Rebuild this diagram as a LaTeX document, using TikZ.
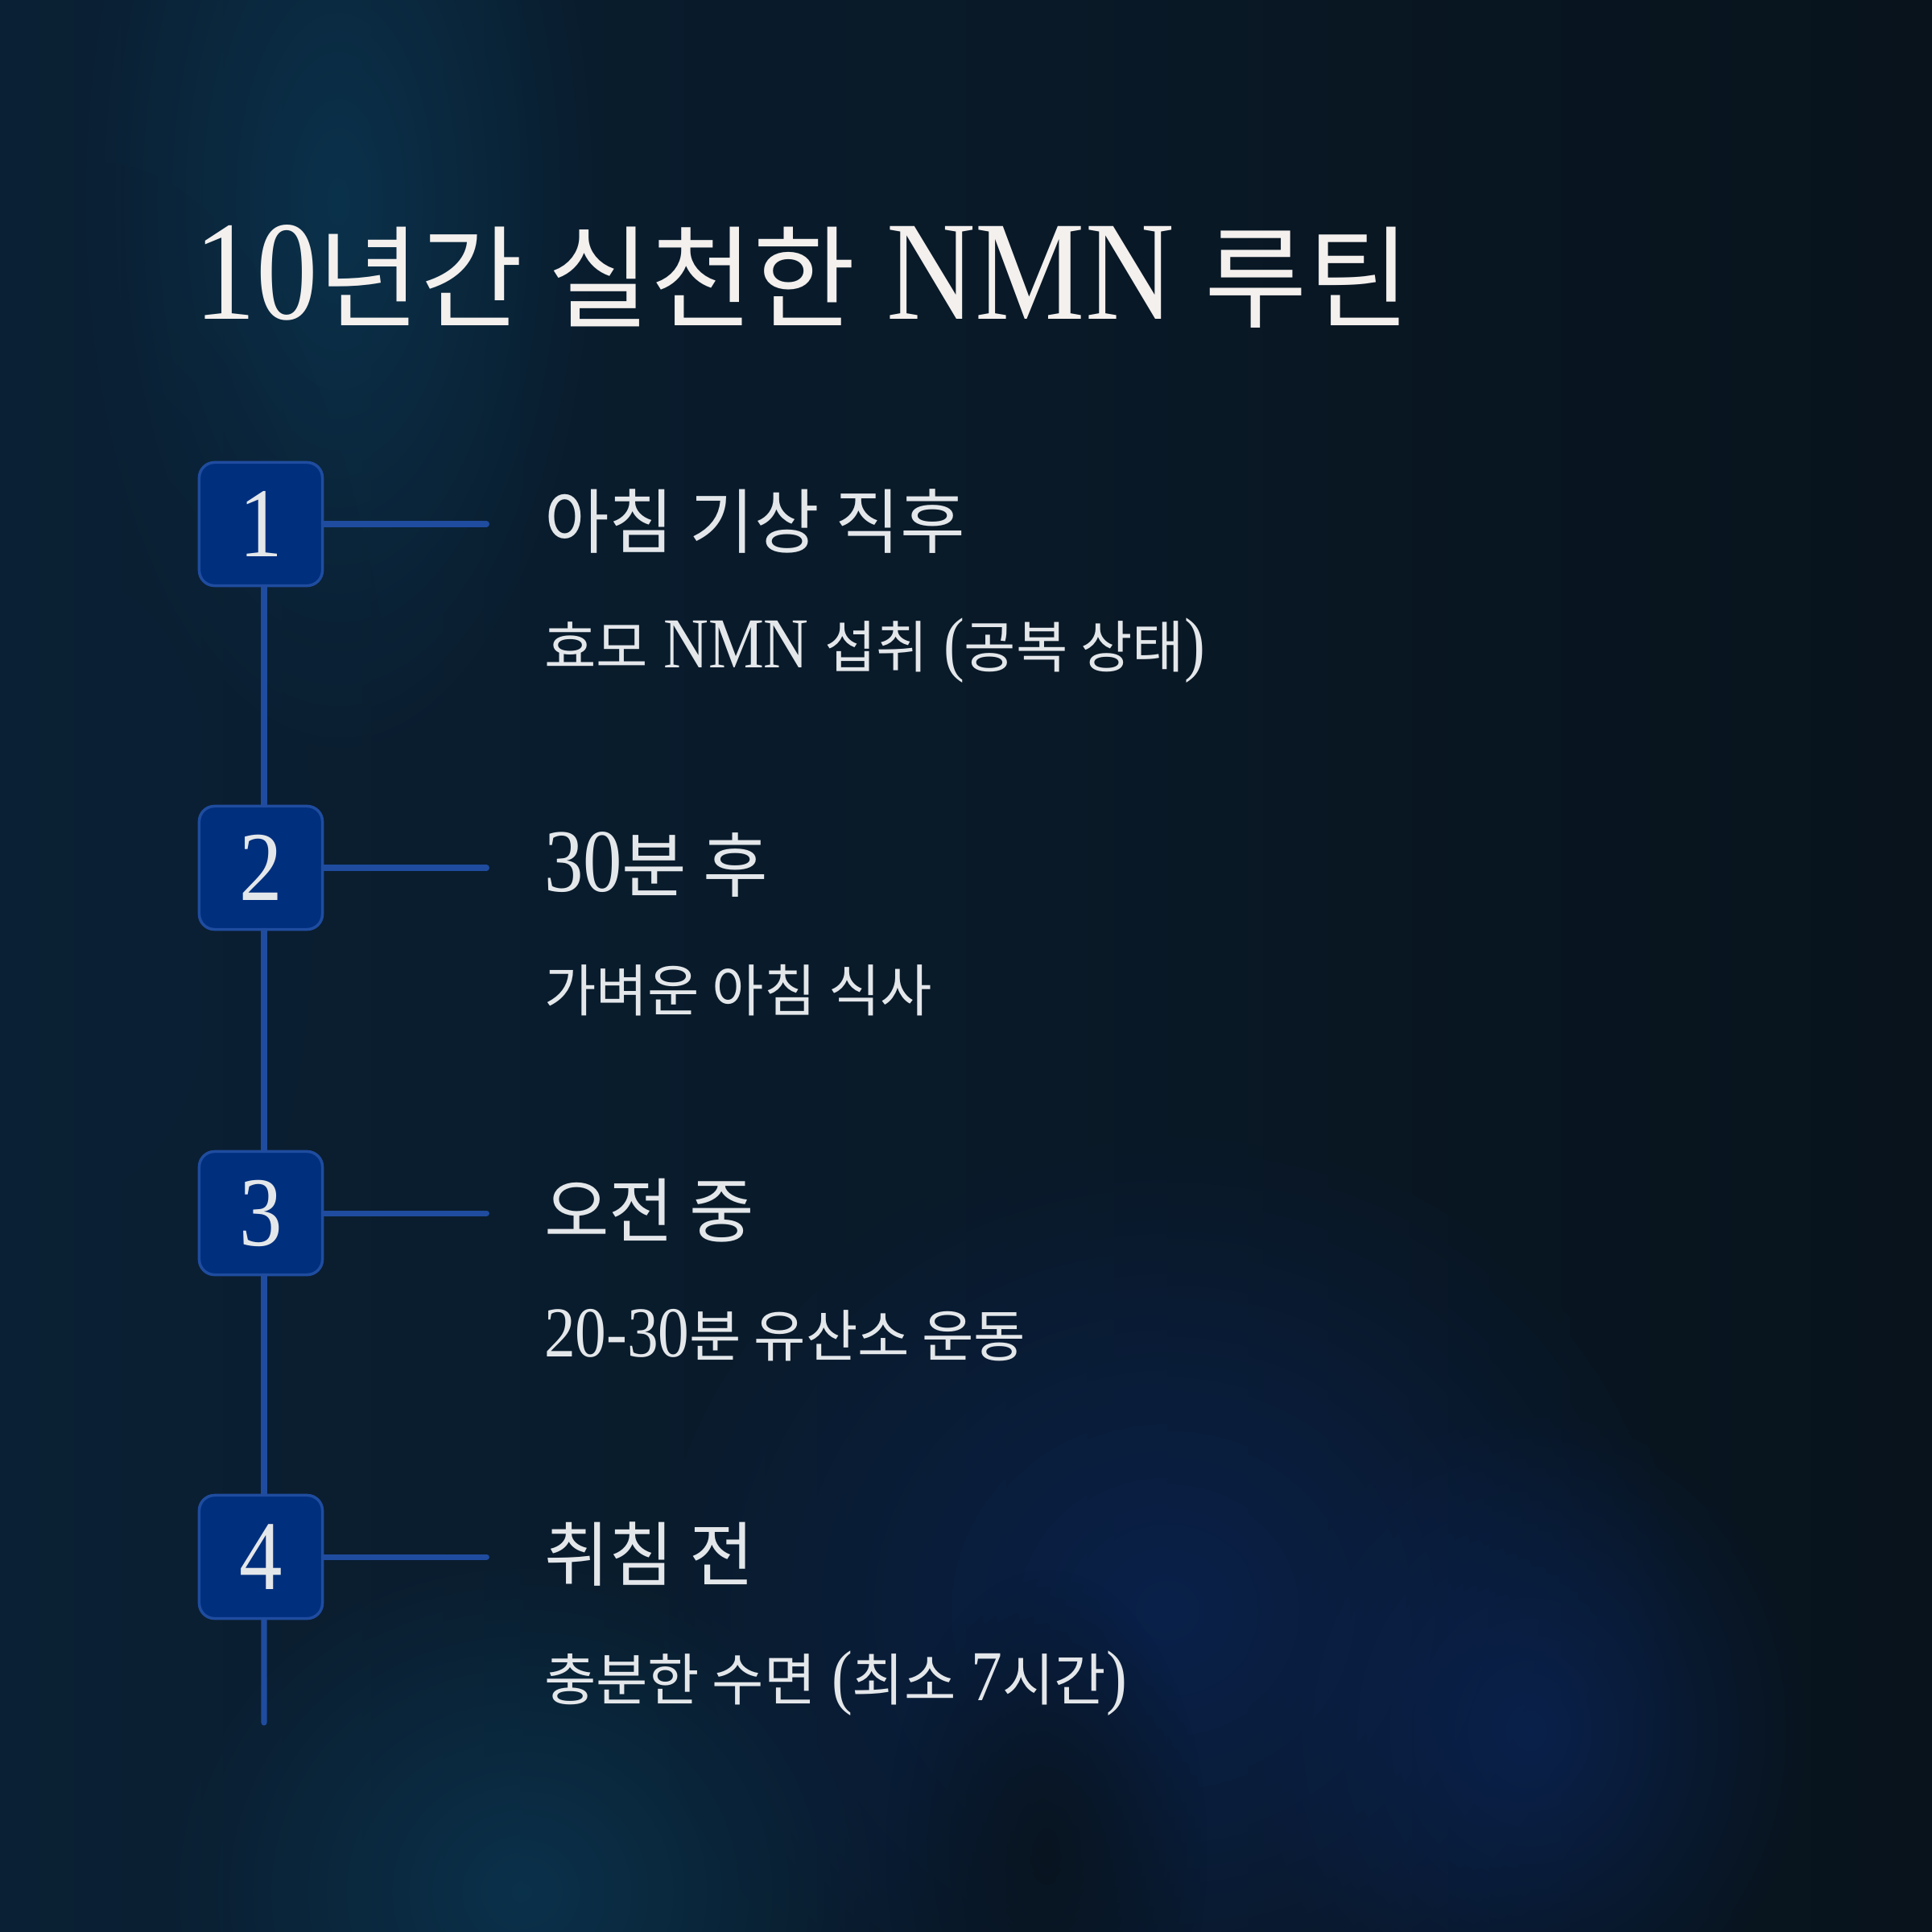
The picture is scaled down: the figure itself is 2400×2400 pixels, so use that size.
\documentclass[tikz,border=0pt]{standalone}
\usepackage{fontspec}
\setmainfont{Liberation Serif}[Scale=1.27, FakeStretch=0.87]
\newfontfamily\kr{Noto Sans CJK KR}
\usepackage{xcolor}
\usepackage{tikz}
\usetikzlibrary{positioning,fadings}
\definecolor{nmnBg}{HTML}{08131C}
\definecolor{nmnBgL}{HTML}{0A2034}
\definecolor{nmnTeal}{HTML}{0B3550}
\definecolor{nmnDeep}{HTML}{0A2250}
\definecolor{nmnBox}{HTML}{002F7E}
\definecolor{nmnLine}{HTML}{1F4C9F}
\definecolor{nmnTitle}{HTML}{F4F0EE}
\definecolor{nmnInk}{HTML}{E4E7EA}
\tikzfading[name=glowfade, inner color=transparent!15, outer color=transparent!100]

\begin{document}
\begin{tikzpicture}[
  x=0.01cm, y=-0.01cm,
  numbox/.style={draw=nmnLine, fill=nmnBox, line width=1pt, rounded corners=0.19cm,
    minimum size=1.53cm, inner sep=0pt, text=nmnInk, font=\fontsize{27.5}{30}\selectfont},
  link/.style={draw=nmnLine, line width=2pt, line cap=round},
  head/.style={anchor=west, inner sep=0pt, text=nmnInk, text height=0.8em, text depth=0.07em,
    yshift=-0.13cm, font=\fontsize{24.9}{28}\selectfont},
  sub/.style={anchor=west, inner sep=0pt, text=nmnInk, text height=0.8em, text depth=0.07em,
    font=\fontsize{19.9}{22}\selectfont},
  glow/.style={path fading=glowfade}
]
  \useasboundingbox (0,0) rectangle (2400,2400);
  % background
  \shade[left color=nmnBgL, right color=nmnBg] (0,0) rectangle (2400,2400);
  \fill[nmnTeal, glow] (420,250) ellipse (330 and 700);
  \fill[nmnBgL, glow] (120,1100) ellipse (380 and 900);
  \fill[nmnTeal, glow] (650,2350) ellipse (450 and 420);
  \fill[nmnDeep, glow] (1450,2000) ellipse (650 and 600);
  \fill[nmnDeep, glow] (1900,2150) ellipse (350 and 400);
  \fill[nmnBg, glow] (1300,2300) ellipse (200 and 350);

  \node[anchor=base west, inner sep=0pt, text=nmnTitle, font=\fontsize{39.4}{47}\selectfont] (title)
    at (241,396) {10{\kr 년간 실천한} NMN {\kr 루틴}};

  % steps
  \node[numbox] (n1) at (324,651) {1};
  \node[numbox] (n2) at (324,1078) {2};
  \node[numbox] (n3) at (324,1507) {3};
  \node[numbox] (n4) at (324,1934) {4};

  \node[head, right=2.73cm of n1] (h1) {\kr 아침 기상 직후};
  \node[head, right=2.73cm of n2] (h2) {30{\kr 분 후}};
  \node[head, right=2.73cm of n3] (h3) {\kr 오전 중};
  \node[head, right=2.73cm of n4] (h4) {\kr 취침 전};

  \node[sub] (s1) at ([yshift=-1.49cm]h1.west) {{\kr 효모} NMN {\kr 섭취} ({\kr 공복 상태})};
  \node[sub] (s2) at ([yshift=-1.49cm]h2.west) {\kr 가벼운 아침 식사};
  \node[sub] (s3) at ([yshift=-1.49cm]h3.west) {20-30{\kr 분 유산소 운동}};
  \node[sub] (s4) at ([yshift=-1.49cm]h4.west) {{\kr 충분한 수면} ({\kr 최소} 7{\kr 시간})};

  \foreach \i in {1,...,4}
    \coordinate (e\i) at ([xshift=2.02cm]n\i.east);
  \coordinate (tail) at (328,2140);

  \foreach \i in {1,...,4}
    \draw[link] (n\i.east) -- (e\i);
  \draw[link] ([xshift=0.04cm]n1.south) -- ([xshift=0.04cm]n2.north);
  \draw[link] ([xshift=0.04cm]n2.south) -- ([xshift=0.04cm]n3.north);
  \draw[link] ([xshift=0.04cm]n3.south) -- ([xshift=0.04cm]n4.north);
  \draw[link] ([xshift=0.04cm]n4.south) -- (tail);
\end{tikzpicture}
\end{document}
